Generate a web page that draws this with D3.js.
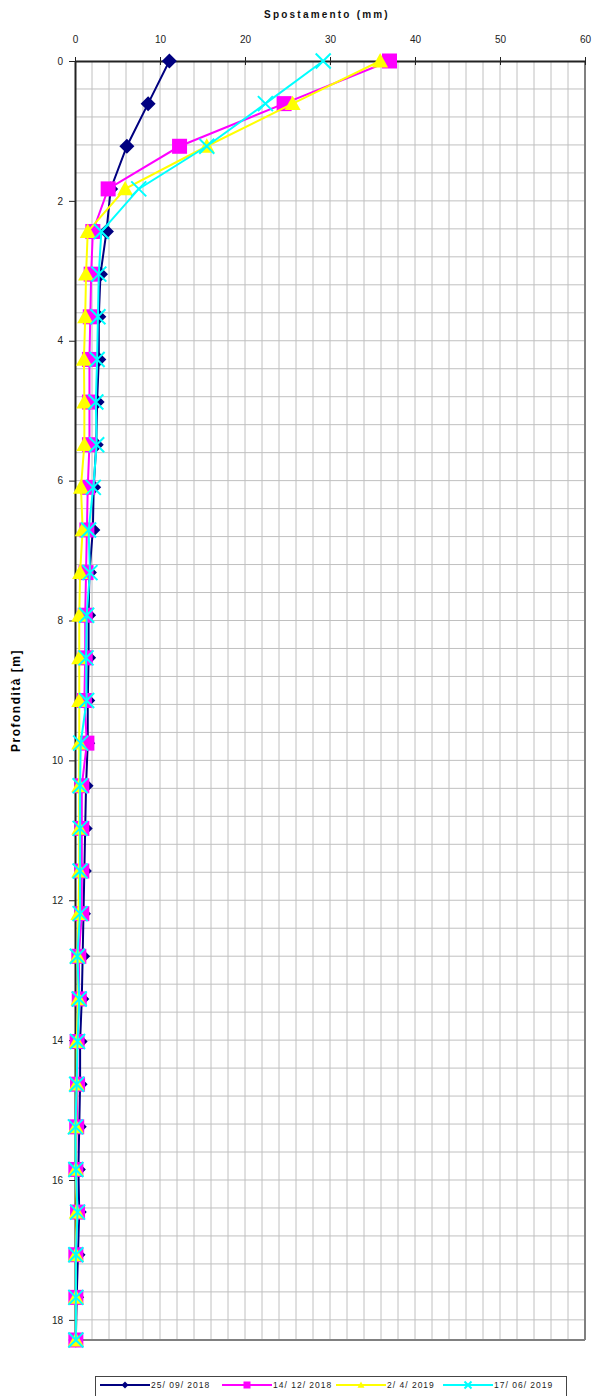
<!DOCTYPE html>
<html><head><meta charset="utf-8">
<script src="https://cdn.jsdelivr.net/npm/d3@7"></script>
<style>body{margin:0;background:#fff;}svg{display:block;font-family:"Liberation Sans",Arial,sans-serif;}</style>
</head><body><svg id="c" width="592" height="1396"></svg>
<script>
const depthStep = 0.6096;
const depths = d3.range(31).map(i => +(i * depthStep).toFixed(4));
const seriesNames = ["25/ 09/ 2018", "14/ 12/ 2018", "2/ 4/ 2019", "17/ 06/ 2019"];
const seriesColors = ["#000080", "#ff00ff", "#ffff00", "#00ffff"];
const seriesMarkers = ["diamond", "square", "triangle", "cross"];
const s1 = [11.1, 8.6, 6.1, 4.2, 3.7, 3.0, 2.8, 2.8, 2.6, 2.5, 2.2, 2.1, 1.7, 1.6, 1.6, 1.5, 1.5, 1.3, 1.2, 1.1, 1.0, 0.9, 0.8, 0.6, 0.6, 0.5, 0.4, 0.5, 0.35, 0.2, 0.1];
const s2 = [37.0, 24.6, 12.3, 3.9, 2.1, 1.9, 1.8, 1.7, 1.7, 1.7, 1.5, 1.4, 1.3, 1.2, 1.2, 1.1, 1.4, 0.8, 0.8, 0.8, 0.8, 0.45, 0.5, 0.25, 0.3, 0.2, 0.1, 0.3, 0.1, 0.1, 0.1];
const s3 = [35.9, 25.6, 15.5, 5.9, 1.5, 1.3, 1.2, 1.05, 1.1, 1.1, 0.7, 0.9, 0.6, 0.5, 0.5, 0.5, 0.5, 0.5, 0.5, 0.5, 0.4, 0.3, 0.4, 0.2, 0.2, 0.1, 0.1, 0.2, 0.1, 0.1, 0.1];
const s4 = [29.2, 22.4, 15.5, 7.5, 3.1, 2.8, 2.7, 2.6, 2.45, 2.55, 2.15, 1.6, 1.76, 1.37, 1.3, 1.37, 0.67, 0.6, 0.6, 0.6, 0.6, 0.27, 0.5, 0.3, 0.2, 0.05, 0.1, 0.3, 0.1, 0.1, 0.1];
const seriesValues = [s1, s2, s3, s4];
const xTicks = [0, 10, 20, 30, 40, 50, 60];
const yTicks = [0, 2, 4, 6, 8, 10, 12, 14, 16, 18];
const xTitle = "Spostamento (mm)";
const yTitle = "Profondità [m]";

const svg = d3.select("#c");
const L = 75, R = 585, T = 61, B = 1340;
const x = d3.scaleLinear().domain([0, 60]).range([L, R]);
const y = d3.scaleLinear().domain([0, 30 * depthStep]).range([T, B]);

// grid
const g = svg.append("g");
g.selectAll("line.vg").data(d3.range(2, 60, 2)).join("line")
  .attr("x1", d => x(d)).attr("x2", d => x(d)).attr("y1", T).attr("y2", B)
  .attr("stroke", "#c0c0c0").attr("stroke-width", 1);
g.selectAll("line.hg").data(d3.range(1, 46).map(i => i * 0.4)).join("line")
  .attr("x1", L).attr("x2", R).attr("y1", d => y(d)).attr("y2", d => y(d))
  .attr("stroke", "#c0c0c0").attr("stroke-width", 1);
// border right/bottom
svg.append("line").attr("x1", R).attr("x2", R).attr("y1", T).attr("y2", B).attr("stroke", "#808080").attr("stroke-width", 2);
svg.append("line").attr("x1", L).attr("x2", R).attr("y1", B).attr("y2", B).attr("stroke", "#808080").attr("stroke-width", 2);

// axes
const xAxis = d3.axisTop(x).tickValues(xTicks).tickSizeInner(4).tickSizeOuter(0).tickPadding(14);
const ax = svg.append("g").attr("transform", `translate(0,${T})`).call(xAxis);
ax.select(".domain").attr("stroke", "#222").attr("stroke-width", 2);
ax.selectAll(".tick line").attr("stroke", "#222").attr("y1", 4).attr("y2", -4);
ax.selectAll("text").attr("font-size", 10).attr("fill", "#222").attr("font-family", "Liberation Sans, Arial");
const yAxis = d3.axisLeft(y).tickValues(yTicks).tickSizeInner(6).tickSizeOuter(0).tickPadding(6);
const ay = svg.append("g").attr("transform", `translate(${L},0)`).call(yAxis);
ay.select(".domain").attr("stroke", "#222").attr("stroke-width", 2);
ay.selectAll(".tick line").attr("stroke", "#222");
ay.selectAll("text").attr("font-size", 10).attr("fill", "#222").attr("font-family", "Liberation Sans, Arial");

svg.append("text").attr("x", 327).attr("y", 18).attr("text-anchor", "middle")
  .attr("font-size", 10).attr("font-weight", "bold").attr("letter-spacing", 2.2).attr("fill", "#111").text(xTitle);
svg.append("text").attr("transform", `translate(20,${(T + B) / 2}) rotate(-90)`).attr("text-anchor", "middle")
  .attr("font-size", 12).attr("font-weight", "bold").attr("letter-spacing", 1.5).attr("fill", "#000").text(yTitle);

function marker(sel, type, color, s) {
  if (type === "diamond") sel.append("path").attr("d", `M0,${-s}L${s},0L0,${s}L${-s},0Z`).attr("fill", color);
  else if (type === "square") sel.append("rect").attr("x", -s).attr("y", -s).attr("width", 2 * s).attr("height", 2 * s).attr("fill", color);
  else if (type === "triangle") sel.append("path").attr("d", `M0,${-s}L${s},${s * 0.8}L${-s},${s * 0.8}Z`).attr("fill", color);
  else sel.append("path").attr("d", `M${-s},${-s}L${s},${s}M${s},${-s}L${-s},${s}`).attr("stroke", color).attr("stroke-width", 2).attr("fill", "none");
}

const line = d3.line().x(d => x(d[0])).y(d => y(d[1]));
const markerSize = [7.5, 7.5, 8, 7.5];
seriesValues.forEach((vals, si) => {
  const pts = vals.map((v, i) => [v, depths[i]]);
  svg.append("path").datum(pts).attr("d", line).attr("fill", "none")
    .attr("stroke", seriesColors[si]).attr("stroke-width", 2);
  const mg = svg.append("g");
  pts.forEach(p => {
    const m = mg.append("g").attr("transform", `translate(${x(p[0])},${y(p[1])})`);
    marker(m, seriesMarkers[si], seriesColors[si], markerSize[si]);
  });
});

// legend
const lg = svg.append("g");
lg.append("rect").attr("x", 95.5).attr("y", 1376.5).attr("width", 471).attr("height", 30).attr("fill", "#fff").attr("stroke", "#444").attr("stroke-width", 1);
const legX = [100, 222, 336, 443];
seriesNames.forEach((n, i) => {
  const it = lg.append("g").attr("transform", `translate(${legX[i]},1385)`);
  it.append("line").attr("x1", 0).attr("x2", 50).attr("stroke", seriesColors[i]).attr("stroke-width", 2);
  const m = it.append("g").attr("transform", "translate(25,0)");
  marker(m, seriesMarkers[i], seriesColors[i], 3.5);
  it.append("text").attr("x", 51).attr("y", 3).attr("font-size", 8.5).attr("letter-spacing", 1).attr("fill", "#222").text(n);
});
</script></body></html>
